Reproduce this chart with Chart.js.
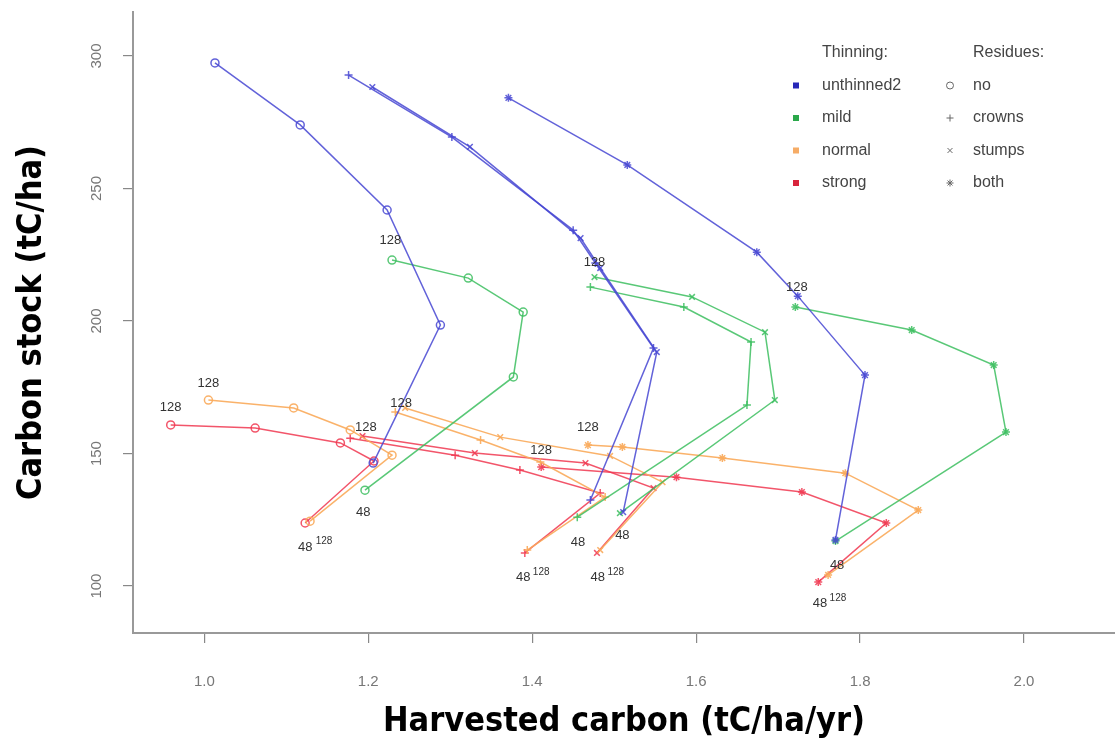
<!DOCTYPE html>
<html>
<head>
<meta charset="utf-8">
<script src="https://cdn.jsdelivr.net/npm/chart.js@4.4.1/dist/chart.umd.min.js"></script>
<style>
  html, body { margin: 0; padding: 0; background: #fff; }
</style>
</head>
<body>
<canvas id="carbonChart" width="1115" height="747"></canvas>
<script>
// Axis ticks
const xTicks = [1.0, 1.2, 1.4, 1.6, 1.8, 2.0];
const yTicks = [100, 150, 200, 250, 300];

// Categories
const thinnings = ["unthinned2", "mild", "normal", "strong"];
const residues = ["no", "crowns", "stumps", "both"];

// [harvested carbon (tC/ha/yr), carbon stock (tC/ha)], rotation 48 first
const unthinnedNo = [[1.206, 146.4], [1.288, 198.5], [1.223, 241.9], [1.117, 274.0], [1.013, 297.4]];
const unthinnedCrowns = [[1.471, 132.5], [1.548, 189.8], [1.477, 221.9], [1.450, 234.3], [1.302, 269.4], [1.176, 292.8]];
const unthinnedStumps = [[1.511, 127.9], [1.552, 188.3], [1.483, 220.0], [1.459, 231.3], [1.324, 265.7], [1.205, 288.3]];
const unthinnedBoth = [[1.770, 117.4], [1.806, 179.6], [1.724, 209.4], [1.674, 226.0], [1.516, 258.9], [1.371, 284.2]];

const mildNo = [[1.196, 136.2], [1.377, 178.9], [1.389, 203.4], [1.322, 216.2], [1.229, 223.0]];
const mildCrowns = [[1.455, 126.0], [1.662, 168.3], [1.667, 192.1], [1.585, 205.3], [1.471, 212.8]];
const mildStumps = [[1.507, 127.5], [1.696, 170.2], [1.684, 195.8], [1.595, 209.1], [1.476, 216.6]];
const mildBoth = [[1.770, 117.0], [1.978, 158.1], [1.963, 183.4], [1.863, 196.6], [1.721, 205.3]];

const normalNo = [[1.129, 124.5], [1.229, 149.4], [1.178, 158.9], [1.109, 167.2], [1.005, 170.2]];
const normalCrowns = [[1.394, 113.6], [1.489, 133.6], [1.410, 146.8], [1.337, 155.1], [1.233, 165.7]];
const normalStumps = [[1.483, 113.6], [1.559, 139.2], [1.495, 149.1], [1.361, 156.2], [1.245, 167.2]];
const normalBoth = [[1.761, 104.2], [1.871, 128.7], [1.782, 142.6], [1.632, 148.3], [1.510, 152.5], [1.468, 153.2]];

const strongNo = [[1.123, 123.8], [1.207, 147.2], [1.166, 154.0], [1.062, 159.6], [0.959, 160.8]];
const strongCrowns = [[1.391, 112.5], [1.483, 135.1], [1.385, 143.8], [1.306, 149.4], [1.178, 155.8]];
const strongStumps = [[1.479, 112.5], [1.548, 137.0], [1.465, 146.4], [1.330, 150.2], [1.193, 156.6]];
const strongBoth = [[1.749, 101.5], [1.832, 123.8], [1.729, 135.5], [1.576, 141.1], [1.411, 144.9]];

// Rotation labels written next to the curves (text, harvested, stock)
const noteTexts = ["128", "128", "128", "128", "128", "128", "128", "128", "128",
  "48", "48", "48", "48", "48", "48", "48", "48"];
const noteX = [1.227, 1.476, 1.723, 1.005, 0.959, 1.240, 1.197, 1.468, 1.411,
  1.194, 1.123, 1.456, 1.510, 1.389, 1.480, 1.772, 1.751];
const noteY = [230.6, 222.3, 212.5, 176.6, 167.5, 169.1, 160.0, 160.0, 151.3,
  127.9, 114.7, 116.6, 119.2, 103.4, 103.4, 107.9, 93.6];
// small overlapping labels beside some of the "48"
const smallTexts = ["128", "128", "128", "128"];
const smallX = [1.146, 1.411, 1.502, 1.773];
const smallY = [117.0, 105.3, 105.3, 95.5];

const series = [
  [unthinnedNo, unthinnedCrowns, unthinnedStumps, unthinnedBoth],
  [mildNo, mildCrowns, mildStumps, mildBoth],
  [normalNo, normalCrowns, normalStumps, normalBoth],
  [strongNo, strongCrowns, strongStumps, strongBoth],
];

const lineColors = ["rgba(70,70,210,0.85)", "rgba(60,190,95,0.85)", "rgba(250,170,90,0.9)", "rgba(240,55,80,0.85)"];
const keyColors = ["#2727b8", "#2aa84a", "#f6ac66", "#d8243c"];
const markers = ["circle", "cross", "crossRot", "star"];

const datasets = [];
thinnings.forEach((t, i) => {
  residues.forEach((r, j) => {
    datasets.push({
      label: t + " / " + r,
      data: series[i][j].map(([x, y]) => ({ x, y })),
      showLine: true,
      borderColor: lineColors[i],
      borderWidth: 1.5,
      pointStyle: markers[j],
      pointRadius: 4,
      pointBorderWidth: 1.5,
      pointBorderColor: lineColors[i],
      pointBackgroundColor: j === 3 ? lineColors[i] : "rgba(255,255,255,0)",
    });
  });
});

// rotation labels
const notesPlugin = {
  id: "notes",
  afterDatasetsDraw(chart) {
    const { ctx, scales } = chart;
    ctx.save();
    ctx.fillStyle = "#333";
    ctx.textAlign = "center";
    ctx.textBaseline = "middle";
    ctx.font = '13px "Liberation Sans", Arial';
    noteTexts.forEach((t, k) => {
      ctx.fillText(t, scales.x.getPixelForValue(noteX[k]), scales.y.getPixelForValue(noteY[k]));
    });
    ctx.font = '10px "Liberation Sans", Arial';
    smallTexts.forEach((t, k) => {
      ctx.fillText(t, scales.x.getPixelForValue(smallX[k]), scales.y.getPixelForValue(smallY[k]));
    });
    ctx.restore();
  },
};

// two-column key: colours for thinning, symbols for residues
const keyPlugin = {
  id: "key",
  afterDraw(chart) {
    const { ctx } = chart;
    const left = 796, mid = 950, top = 53, rowH = 32.5;
    ctx.save();
    ctx.font = '16px "Liberation Sans", Arial';
    ctx.textBaseline = "middle";
    ctx.textAlign = "left";
    ctx.fillStyle = "#444";
    ctx.fillText("Thinning:", left + 26, top);
    ctx.fillText("Residues:", mid + 23, top);
    thinnings.forEach((t, i) => {
      const y = top + rowH * (i + 1);
      ctx.fillStyle = keyColors[i];
      ctx.fillRect(left - 3, y - 3, 6, 6);
      ctx.fillStyle = "#444";
      ctx.fillText(t, left + 26, y);
    });
    residues.forEach((r, j) => {
      const y = top + rowH * (j + 1);
      ctx.strokeStyle = "#666";
      ctx.fillStyle = j === 3 ? "#666" : "rgba(255,255,255,0)";
      Chart.helpers.drawPoint(ctx, {
        pointStyle: markers[j], radius: 3.5, borderWidth: 1.2,
      }, mid, y);
      ctx.fillStyle = "#444";
      ctx.fillText(r, mid + 23, y);
    });
    ctx.restore();
  },
};

const titleFont = { family: '"Liberation Sans Narrow", "DejaVu Sans Condensed", "Liberation Sans", Arial', size: 34, weight: "bold" };

new Chart(document.getElementById("carbonChart"), {
  type: "scatter",
  data: { datasets },
  options: {
    responsive: false,
    animation: false,
    devicePixelRatio: 1,
    layout: { autoPadding: false, padding: { top: 12, right: 0, bottom: 0, left: 0 } },
    plugins: { legend: { display: false }, tooltip: { enabled: false } },
    scales: {
      x: {
        min: 0.913,
        max: 2.111,
        afterBuildTicks: (scale) => { scale.ticks = xTicks.map((v) => ({ value: v })); },
        afterFit: (scale) => {
          scale.height = 114;
          scale.paddingLeft = 0;
          scale.paddingRight = 0;
        },
        grid: { drawOnChartArea: false, drawTicks: true, tickLength: 10, color: "#888", lineWidth: 1.2 },
        border: { display: true, color: "#999", width: 2 },
        ticks: {
          padding: 30,
          color: "#777",
          font: { family: '"Liberation Sans", Arial', size: 15 },
          callback: (v) => Number(v).toFixed(1),
        },
        title: {
          display: true,
          text: "Harvested carbon (tC/ha/yr)",
          color: "#000",
          font: titleFont,
          padding: { top: 0, bottom: 4 },
        },
      },
      y: {
        min: 82.3,
        max: 316.6,
        afterBuildTicks: (scale) => { scale.ticks = yTicks.map((v) => ({ value: v })); },
        afterFit: (scale) => {
          scale.width = 133;
          scale.paddingTop = 0;
          scale.paddingBottom = 0;
        },
        grid: { drawOnChartArea: false, drawTicks: true, tickLength: 10, color: "#888", lineWidth: 1.2 },
        border: { display: true, color: "#999", width: 2 },
        ticks: {
          padding: 14,
          color: "#777",
          minRotation: 90,
          maxRotation: 90,
          crossAlign: "center",
          font: { family: '"Liberation Sans", Arial', size: 15 },
          callback: (v) => String(v),
        },
        title: {
          display: true,
          text: "Carbon stock (tC/ha)",
          color: "#000",
          font: titleFont,
          padding: { top: 12, bottom: 0 },
        },
      },
    },
  },
  plugins: [notesPlugin, keyPlugin],
});
</script>
</body>
</html>
